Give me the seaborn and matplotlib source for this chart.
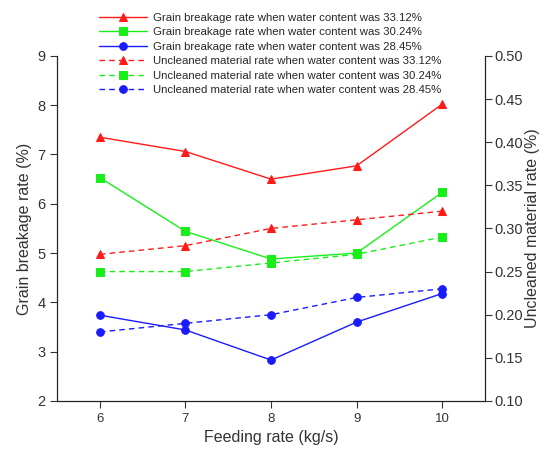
import pandas as pd
import matplotlib
matplotlib.use('Agg')
import matplotlib.pyplot as plt
import seaborn as sns

# Data
feed_rate = [6, 7, 8, 9, 10]
moisture = ['33.12%', '30.24%', '28.45%']

breakage_3312 = [7.35, 7.06, 6.50, 6.77, 8.02]
breakage_3024 = [6.53, 5.44, 4.88, 5.00, 6.23]
breakage_2845 = [3.74, 3.44, 2.83, 3.60, 4.18]

uncleaned_3312 = [0.27, 0.28, 0.30, 0.31, 0.32]
uncleaned_3024 = [0.25, 0.25, 0.26, 0.27, 0.29]
uncleaned_2845 = [0.18, 0.19, 0.20, 0.22, 0.23]

colors = ['#ff1a1a', '#1aee1a', '#1a1aff']
markers = ['^', 's', 'o']

sns.set_style('ticks')
plt.rcParams['font.family'] = ['Liberation Sans', 'DejaVu Sans']

fig = plt.figure(figsize=(5.44, 4.58), dpi=100)
ax = fig.add_axes([0.105, 0.1245, 0.7865, 0.7535])
ax2 = ax.twinx()

breakage = [breakage_3312, breakage_3024, breakage_2845]
uncleaned = [uncleaned_3312, uncleaned_3024, uncleaned_2845]

handles = []
labels = []
for i, m in enumerate(moisture):
    df = pd.DataFrame({'Feeding rate': feed_rate, 'value': breakage[i]})
    sns.lineplot(data=df, x='Feeding rate', y='value', ax=ax, color=colors[i],
                 marker=markers[i], markersize=5.5, markeredgecolor=colors[i],
                 linewidth=1.0)
    handles.append(ax.lines[-1])
    labels.append('Grain breakage rate when water content was ' + m)
for i, m in enumerate(moisture):
    df = pd.DataFrame({'Feeding rate': feed_rate, 'value': uncleaned[i]})
    sns.lineplot(data=df, x='Feeding rate', y='value', ax=ax2, color=colors[i],
                 marker=markers[i], markersize=5.5, markeredgecolor=colors[i],
                 linewidth=1.0, dashes=(4, 3))
    handles.append(ax2.lines[-1])
    labels.append('Uncleaned material rate when water content was ' + m)

ax.set_xlim(5.5, 10.5)
ax.set_ylim(2, 9)
ax2.set_ylim(0.10, 0.50)
ax.set_xticks(feed_rate)
ax.set_yticks(range(2, 10))
ax2.set_yticks([0.10, 0.15, 0.20, 0.25, 0.30, 0.35, 0.40, 0.45, 0.50])
ax2.set_yticklabels(['%.2f' % v for v in ax2.get_yticks()])

ax.set_xlabel('Feeding rate (kg/s)', fontsize=11.5, color='#333333')
ax.set_ylabel('Grain breakage rate (%)', fontsize=11.5, color='#333333')
ax2.set_ylabel('Uncleaned material rate (%)', fontsize=11.5, color='#333333',
               labelpad=1)

for a in (ax, ax2):
    a.spines['top'].set_visible(False)
    a.tick_params(labelsize=10.5, colors='#333333', direction='out', length=5)
    for s in a.spines.values():
        s.set_color('#222222')
ax.tick_params(axis='x', labelsize=9.5)
ax2.tick_params(axis='y', pad=2)

fig.legend(handles, labels, loc='upper left', bbox_to_anchor=(0.168, 0.99),
           frameon=False, fontsize=8.2, handlelength=4.2, labelspacing=0.4,
           handletextpad=0.5, borderaxespad=0.3)

fig.savefig('out.png', dpi=100)
